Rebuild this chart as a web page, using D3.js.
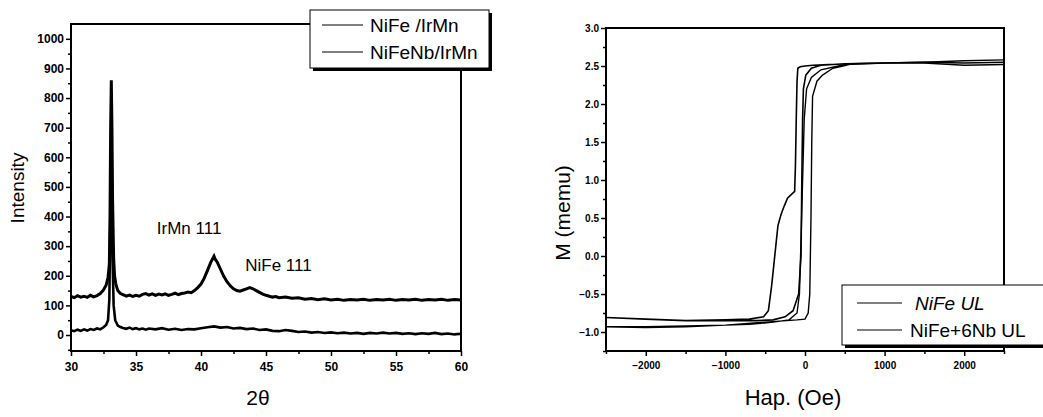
<!DOCTYPE html>
<html>
<head>
<meta charset="utf-8">
<script src="https://cdn.jsdelivr.net/npm/d3@7"></script>
<style>
  body { margin: 0; background: #fff; }
  svg text { font-family: "Liberation Sans", Arial, sans-serif; fill: #000; }
</style>
</head>
<body>
<svg id="chart" width="1043" height="417"></svg>
<script>
// XRD scans, [2theta, intensity]
const nifeIrmn = [[30,130],[30.25,126],[30.5,133],[30.75,128],[31,131],[31.25,127],[31.5,134],[31.75,129],[32,133],[32.25,140],[32.5,152],[32.7,168],[32.85,195],[32.95,240],[33.0,400],[33.05,700],[33.1,860],[33.15,700],[33.2,450],[33.28,260],[33.35,200],[33.45,172],[33.6,150],[33.8,140],[34,136],[34.25,131],[34.5,135],[34.75,130],[35,134],[35.25,131],[35.5,137],[35.75,140],[36,135],[36.25,139],[36.5,134],[36.75,138],[37,135],[37.25,139],[37.5,134],[37.75,137],[38,141],[38.25,136],[38.5,140],[38.75,142],[39,145],[39.25,143],[39.5,150],[39.75,160],[40,172],[40.25,192],[40.5,218],[40.75,245],[40.9,258],[41,266],[41.1,255],[41.25,246],[41.5,222],[41.75,198],[42,180],[42.25,166],[42.5,156],[42.75,150],[43,148],[43.25,152],[43.5,156],[43.75,160],[44,156],[44.25,150],[44.5,144],[44.75,138],[45,134],[45.25,131],[45.5,128],[45.75,130],[46,126],[46.5,128],[47,124],[47.5,126],[48,121],[48.5,123],[49,119],[49.5,122],[50,118],[50.5,121],[51,117],[51.5,120],[52,118],[52.5,121],[53,117],[53.5,120],[54,118],[54.5,121],[55,117],[55.5,120],[56,118],[56.5,121],[57,117],[57.5,120],[58,118],[58.5,121],[59,117],[59.5,120],[60,118]];
const nifenbIrmn = [[30,16],[30.25,13],[30.5,18],[30.75,14],[31,19],[31.25,15],[31.5,20],[31.75,17],[32,22],[32.25,19],[32.5,26],[32.7,34],[32.85,50],[32.95,120],[33.0,300],[33.05,500],[33.1,600],[33.15,480],[33.2,250],[33.28,100],[33.4,50],[33.6,32],[33.8,27],[34,24],[34.25,21],[34.5,25],[34.75,20],[35,23],[35.25,19],[35.5,22],[35.75,18],[36,22],[36.5,19],[37,23],[37.5,18],[38,21],[38.5,17],[39,20],[39.5,19],[40,23],[40.5,26],[41,29],[41.5,25],[42,27],[42.5,22],[43,24],[43.5,20],[44,22],[44.5,17],[45,19],[45.5,14],[46,13],[46.5,17],[47,14],[47.5,10],[48,12],[48.5,8],[49,10],[49.5,7],[50,9],[50.5,6],[51,8],[51.5,5],[52,7],[52.5,4],[53,7],[53.5,5],[54,8],[54.5,5],[55,7],[55.5,4],[56,6],[56.5,3],[57,6],[57.5,4],[58,7],[58.5,3],[59,5],[59.5,2],[60,4]];
const xrdNames = ["NiFe /IrMn", "NiFeNb/IrMn"];
const xrdPeaks = [{label: "IrMn 111", angle: 36.6, value: 340}, {label: "NiFe 111", angle: 43.4, value: 215}];
const xrdXTicks = [30, 35, 40, 45, 50, 55, 60];
const xrdYTicks = [0, 100, 200, 300, 400, 500, 600, 700, 800, 900, 1000];

// M-H loops, [H (Oe), M (memu)], down branch then up branch
const nifeLoop = [[2500,2.55],[2000,2.54],[1500,2.55],[1000,2.54],[600,2.53],[300,2.52],[100,2.51],[0,2.50],[-60,2.49],[-90,2.47],[-100,2.3],[-110,1.8],[-120,1.2],[-130,0.85],[-160,0.82],[-220,0.76],[-260,0.66],[-300,0.55],[-340,0.4],[-380,0.0],[-420,-0.4],[-460,-0.72],[-520,-0.80],[-700,-0.83],[-1000,-0.84],[-1500,-0.85],[-2000,-0.83],[-2500,-0.81],
  [-2000,-0.83],[-1500,-0.85],[-1000,-0.85],[-600,-0.85],[-400,-0.84],[-250,-0.80],[-150,-0.72],[-80,-0.5],[-50,0.0],[-40,1.0],[-30,1.8],[-20,2.2],[10,2.38],[80,2.47],[200,2.51],[500,2.53],[1000,2.54],[1500,2.55],[2000,2.54],[2500,2.55]];
const nifeNbLoop = [[2500,2.52],[2000,2.51],[1500,2.54],[1000,2.54],[500,2.52],[200,2.45],[80,2.35],[20,2.2],[-10,1.8],[-30,1.0],[-50,0.2],[-70,-0.5],[-100,-0.75],[-200,-0.84],[-400,-0.87],[-700,-0.90],[-1000,-0.91],[-1500,-0.92],[-2000,-0.93],[-2500,-0.93],
  [-2000,-0.94],[-1500,-0.93],[-1000,-0.91],[-500,-0.87],[-100,-0.84],[0,-0.83],[40,-0.75],[60,-0.5],[75,0.5],[85,1.5],[95,2.1],[150,2.3],[220,2.38],[350,2.47],[600,2.53],[1000,2.54],[1500,2.55],[2000,2.57],[2500,2.58]];
const loopNames = ["NiFe UL", "NiFe+6Nb UL"];
const loopXTicks = [-2000, -1000, 0, 1000, 2000];
const loopYTicks = [-1.0, -0.5, 0.0, 0.5, 1.0, 1.5, 2.0, 2.5, 3.0];

const svg = d3.select("#chart");

// draws the frame, ticks and minor ticks of one panel
function drawFrame(g, x, y, xTicks, yTicks, xMinor, yMinor, xFmt, yFmt, fontSize) {
  const [x0, x1] = x.range();
  const [y0, y1] = y.range();
  g.append("g")
    .attr("transform", `translate(0,${y0})`)
    .call(d3.axisBottom(x).tickValues(xMinor).tickSize(3).tickFormat(""))
    .call((a) => a.select(".domain").remove());
  g.append("g")
    .attr("transform", `translate(${x0},0)`)
    .call(d3.axisLeft(y).tickValues(yMinor).tickSize(3).tickFormat(""))
    .call((a) => a.select(".domain").remove());
  g.append("g")
    .attr("transform", `translate(0,${y0})`)
    .call(d3.axisBottom(x).tickValues(xTicks).tickSize(5).tickPadding(6).tickFormat(xFmt))
    .call((a) => a.select(".domain").remove())
    .selectAll("text").attr("font-weight", "bold").style("font-size", fontSize + "px");
  g.append("g")
    .attr("transform", `translate(${x0},0)`)
    .call(d3.axisLeft(y).tickValues(yTicks).tickSize(5).tickPadding(2).tickFormat(yFmt))
    .call((a) => a.select(".domain").remove())
    .selectAll("text").attr("font-weight", "bold").style("font-size", fontSize + "px");
  g.selectAll(".tick line").attr("stroke", "#000").attr("stroke-width", 1.5);
  g.append("rect")
    .attr("x", x0).attr("y", y1)
    .attr("width", x1 - x0).attr("height", y0 - y1)
    .attr("fill", "none").attr("stroke", "#000").attr("stroke-width", 2);
}

// ---- left panel: XRD ----
const xL = d3.scaleLinear().domain([30, 60]).range([71, 461]);
const yL = d3.scaleLinear().domain([-54, 1050]).range([351, 24]);
const left = svg.append("g");
drawFrame(left, xL, yL, xrdXTicks, xrdYTicks,
  d3.range(32.5, 60, 5), d3.range(-50, 1050, 100),
  d3.format("d"), d3.format("d"), 12);

const lineL = d3.line().x((d) => xL(d[0])).y((d) => yL(d[1]));
left.append("path").datum(nifenbIrmn)
  .attr("d", lineL).attr("fill", "none").attr("stroke", "#000").attr("stroke-width", 2.6);
left.append("path").datum(nifeIrmn)
  .attr("d", lineL).attr("fill", "none").attr("stroke", "#000").attr("stroke-width", 3);

left.selectAll(".peak").data(xrdPeaks).enter().append("text")
  .attr("class", "peak")
  .attr("x", (d) => xL(d.angle)).attr("y", (d) => yL(d.value))
  .style("font-size", "17px")
  .text((d) => d.label);

left.append("text").attr("x", 258).attr("y", 405)
  .attr("text-anchor", "middle").style("font-size", "21px").text("2θ");
left.append("text").attr("transform", "translate(24,188) rotate(-90)")
  .attr("text-anchor", "middle").style("font-size", "19px").text("Intensity");

// legend with drop shadow
const legL = left.append("g").attr("transform", "translate(310,10)");
legL.append("rect").attr("x", 3).attr("y", 3).attr("width", 179).attr("height", 58).attr("fill", "#000");
legL.append("rect").attr("width", 179).attr("height", 58).attr("fill", "#fff").attr("stroke", "#000").attr("stroke-width", 1);
legL.selectAll(".item").data(xrdNames).enter().append("g")
  .attr("transform", (d, i) => `translate(0,${15 + i * 27})`)
  .each(function (d) {
    const it = d3.select(this);
    it.append("line").attr("x1", 12).attr("x2", 53).attr("stroke", "#000").attr("stroke-width", 1.2);
    it.append("text").attr("x", 60).attr("y", 7).style("font-size", "19px").text(d);
  });

// ---- right panel: M-H loops ----
const xR = d3.scaleLinear().domain([-2500, 2500]).range([606, 1004]);
const yR = d3.scaleLinear().domain([-1.25, 3.0]).range([351, 28]);
const right = svg.append("g");
drawFrame(right, xR, yR, loopXTicks, loopYTicks,
  d3.range(-2500, 2600, 500).filter((v) => v % 1000 !== 0), d3.range(-1.25, 3, 0.5),
  d3.format("d"), d3.format(".1f"), 10);

const lineR = d3.line().x((d) => xR(d[0])).y((d) => yR(d[1]));
right.append("path").datum(nifeLoop)
  .attr("d", lineR).attr("fill", "none").attr("stroke", "#000").attr("stroke-width", 1.6);
right.append("path").datum(nifeNbLoop)
  .attr("d", lineR).attr("fill", "none").attr("stroke", "#000").attr("stroke-width", 1.4);

right.append("text").attr("x", 793).attr("y", 405)
  .attr("text-anchor", "middle").style("font-size", "22px").text("Hap. (Oe)");
right.append("text").attr("transform", "translate(570,213) rotate(-90)")
  .attr("text-anchor", "middle").style("font-size", "21px").text("M (memu)");

const legR = right.append("g").attr("transform", "translate(842,285)");
legR.append("rect").attr("x", 3).attr("y", 3).attr("width", 210).attr("height", 60).attr("fill", "#000");
legR.append("rect").attr("width", 210).attr("height", 60).attr("fill", "#fff").attr("stroke", "#000").attr("stroke-width", 1);
legR.selectAll(".item").data(loopNames).enter().append("g")
  .attr("transform", (d, i) => `translate(0,${18 + i * 27})`)
  .each(function (d, i) {
    const it = d3.select(this);
    it.append("line").attr("x1", 15).attr("x2", 60).attr("stroke", "#000").attr("stroke-width", 1.2);
    it.append("text").attr("x", i === 0 ? 73 : 68).attr("y", 7)
      .style("font-size", "19px").style("font-style", i === 0 ? "italic" : "normal").text(d);
  });
</script>
</body>
</html>
